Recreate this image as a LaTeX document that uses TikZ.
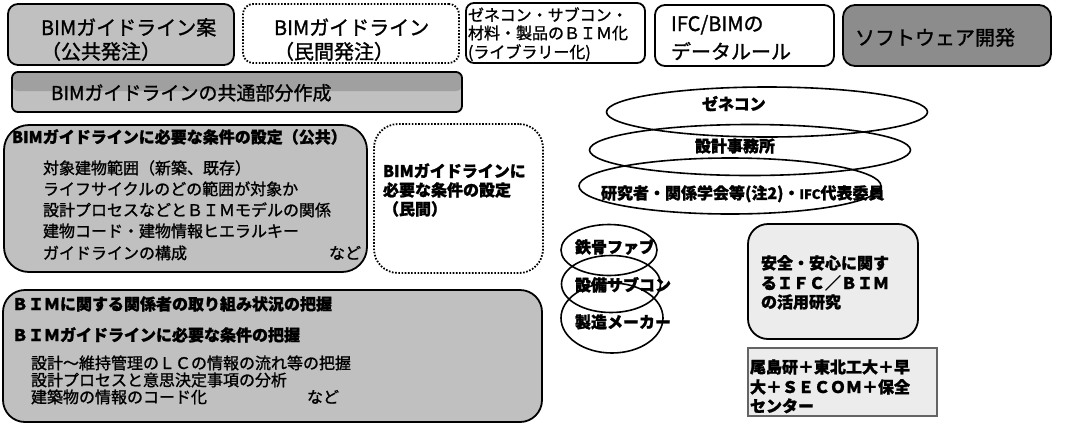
\documentclass[tikz,border=0pt]{standalone}
\usepackage{fontspec}
\setmainfont{Noto Sans CJK JP}[BoldFeatures={FakeBold=1.3}]
\newfontfamily\jpm{Noto Sans CJK JP}[FakeBold=1.3]
\usetikzlibrary{shapes.geometric}
\definecolor{gA}{RGB}{192,192,192}
\definecolor{gBand}{RGB}{160,160,160}
\definecolor{gE}{RGB}{140,140,140}
\definecolor{gL}{RGB}{236,236,236}
\definecolor{gJ}{RGB}{100,100,100}
\begin{document}
\begin{tikzpicture}[x=1pt,y=-1pt,
  rbox/.style={draw=black, line width=1.8pt, anchor=north west, inner sep=0pt, outer sep=0pt},
  dotbox/.style={rbox, dash pattern=on 1.6pt off 1.6pt},
  ell/.style={ellipse, draw=black, line width=1.6pt, inner sep=0pt},
  t/.style={anchor=base west, inner sep=0pt, outer sep=0pt, font=\jpm\fontsize{16}{16}\selectfont},
  tb/.style={anchor=base west, inner sep=0pt, outer sep=0pt, font=\bfseries\fontsize{16}{16}\selectfont},
  tL/.style={anchor=base west, inner sep=0pt, outer sep=0pt, font=\jpm\fontsize{20}{20}\selectfont}
]
\fill[white] (0,0) rectangle (1074,424);
\useasboundingbox (0,0) rectangle (1074,424);

% top row
\node[rbox, fill=gA, rounded corners=10pt, minimum width=226pt, minimum height=61pt] (boxA) at (8,4) {};
\node[tL] (tA1) at (41,35) {BIMガイドライン案};
\node[tL] (tA2) at (41,59) {（公共発注）};

\node[dotbox, fill=white, rounded corners=10pt, minimum width=216pt, minimum height=59pt] (boxB) at (243,4) {};
\node[tL] (tB1) at (274,35) {BIMガイドライン};
\node[tL] (tB2) at (274,59) {（民間発注）};

\node[rbox, fill=white, rounded corners=8pt, minimum width=179pt, minimum height=60pt] (boxC) at (466,3) {};
\node[t] (tC1) at (468,21) {ゼネコン・サブコン・};
\node[t] (tC2) at (468,39) {材料・製品のＢＩＭ化};
\node[t] (tC3) at (468,58) {(ライブラリー化)};

\node[rbox, fill=white, rounded corners=10pt, minimum width=179pt, minimum height=61pt] (boxD) at (655,5) {};
\node[tL] (tD1) at (671,31) {IFC/BIMの};
\node[tL] (tD2) at (671,59) {データルール};

\node[rbox, fill=gE, rounded corners=12pt, minimum width=208pt, minimum height=61pt] (boxE) at (843,5) {};
\node[tL] (tE1) at (855,45) {ソフトウェア開発};

% common part
\node[rbox, fill=gA, rounded corners=6pt, minimum width=450pt, minimum height=40pt,
  path picture={\fill[gBand] (path picture bounding box.north west) rectangle ([yshift=-19pt]path picture bounding box.north east);}] (boxCom) at (12,72) {};
\node[tL, font=\jpm\fontsize{19}{19}\selectfont] (tCom) at (51,100) {BIMガイドラインの共通部分作成};

% public conditions
\node[rbox, fill=gA, rounded corners=25pt, minimum width=363pt, minimum height=147pt] (boxF) at (4,125) {};
\node[tb] (tF0) at (12,143) {BIMガイドラインに必要な条件の設定（公共）};
\node[t] (tF1) at (43,174) {対象建物範囲（新築、既存）};
\node[t] (tF2) at (43,195) {ライフサイクルのどの範囲が対象か};
\node[t] (tF3) at (43,216) {設計プロセスなどとＢＩＭモデルの関係};
\node[t] (tF4) at (43,237) {建物コード・建物情報ヒエラルキー};
\node[t] (tF5) at (43,259) {ガイドラインの構成};
\node[t] (tF6) at (329,259) {など};

% private conditions
\node[dotbox, fill=white, rounded corners=24pt, minimum width=169pt, minimum height=149pt] (boxG) at (374,124) {};
\node[tb] (tG1) at (383,177) {BIMガイドラインに};
\node[tb] (tG2) at (383,196) {必要な条件の設定};
\node[tb] (tG3) at (383,215) {（民間）};

% status
\node[rbox, fill=gA, rounded corners=22pt, minimum width=539pt, minimum height=132pt] (boxH) at (3,290) {};
\node[tb] (tH1) at (12,310) {ＢＩＭに関する関係者の取り組み状況の把握};
\node[tb] (tH2) at (12,341) {ＢＩＭガイドラインに必要な条件の把握};
\node[t] (tH3) at (31,369) {設計～維持管理のＬＣの情報の流れ等の把握};
\node[t] (tH4) at (31,386) {設計プロセスと意思決定事項の分析};
\node[t] (tH5) at (31,403) {建築物の情報のコード化};
\node[t] (tH6) at (307,403) {など};

% large ellipses
\node[ell, minimum width=321pt, minimum height=50pt] (e1) at (767,112) {};
\node[ell, minimum width=321pt, minimum height=51pt] (e2) at (750,150) {};
\node[ell, minimum width=302pt, minimum height=56pt] (e3) at (730,186) {};
\node[tb] (te1) at (702,110) {ゼネコン};
\node[tb] (te2) at (695,152) {設計事務所};
\node[tb] (te3) at (601,199) {研究者・関係学会等(注2)・{\fontsize{13}{13}\selectfont IFC}代表委員};

% small ellipses
\node[ell, minimum width=96pt, minimum height=51pt] (s1) at (609,250) {};
\node[ell, minimum width=99pt, minimum height=57pt] (s2) at (611,284) {};
\node[ell, minimum width=102pt, minimum height=70pt] (s3) at (612,318) {};
\node[tb] (ts1) at (575,253) {鉄骨ファブ};
\node[tb] (ts2) at (575,291) {設備サブコン};
\node[tb] (ts3) at (575,328) {製造メーカー};

% research box
\node[rbox, fill=gL, rounded corners=20pt, minimum width=170pt, minimum height=115pt] (boxI) at (748,224) {};
\node[tb] (tI1) at (761,269) {安全・安心に関す};
\node[tb] (tI2) at (761,289) {るＩＦＣ／ＢＩＭ};
\node[tb] (tI3) at (761,308) {の活用研究};

\node[rbox, draw=gJ, line width=1.2pt, fill=gL, minimum width=189pt, minimum height=68pt] (boxJ) at (748,348) {};
\node[tb] (tJ1) at (750,373) {尾島研＋東北工大＋早};
\node[tb] (tJ2) at (750,393) {大＋ＳＥＣＯＭ＋保全};
\node[tb] (tJ3) at (750,412) {センター};
\end{tikzpicture}
\end{document}
